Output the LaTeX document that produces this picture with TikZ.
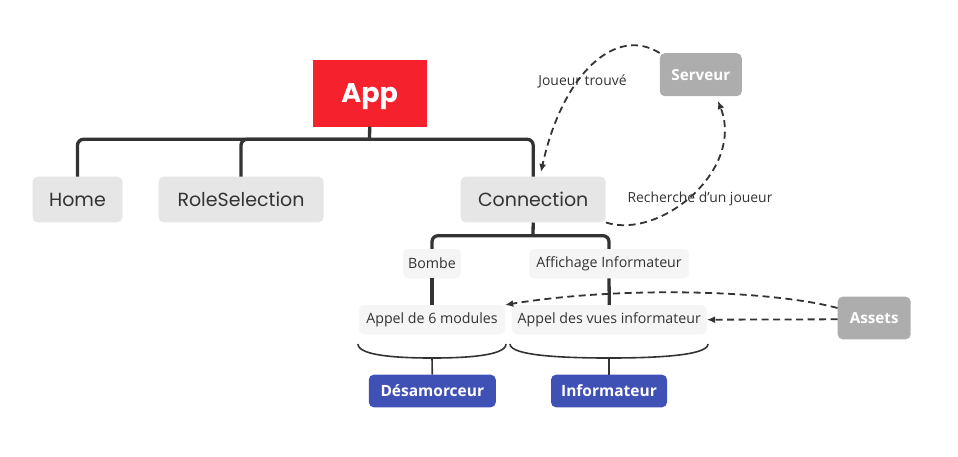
\documentclass[tikz,border=0pt]{standalone}
\usepackage{fontspec}
\setmainfont{Open Sans}
\newfontfamily\bigf{Poppins}
\usetikzlibrary{arrows.meta}
\definecolor{appred}{HTML}{F5222D}
\definecolor{boxgray}{HTML}{E6E6E6}
\definecolor{subgray}{HTML}{F5F5F5}
\definecolor{extgray}{HTML}{ADADAD}
\definecolor{roleblue}{HTML}{3F51B5}
\definecolor{ink}{HTML}{333333}
\tikzset{
  mainbox/.style={fill=boxgray, rounded corners=5pt, text=ink, inner sep=0pt,
    font=\bigf\fontsize{19}{22}\selectfont, minimum height=45.6pt},
  subbox/.style={fill=subgray, rounded corners=5pt, text=ink, inner sep=0pt,
    font=\fontsize{14.2}{16}\selectfont, minimum height=29.3pt},
  extbox/.style={fill=extgray, rounded corners=5pt, text=white, inner sep=0pt,
    font=\bfseries\fontsize{15.2}{17}\selectfont},
  rolebox/.style={fill=roleblue, rounded corners=5pt, text=white, inner sep=0pt,
    font=\bfseries\fontsize{15.5}{17}\selectfont, minimum height=32.6pt},
  tree/.style={draw=ink, line width=3.3pt, rounded corners=6pt},
  brace/.style={draw=ink, line width=1.6pt},
  flow/.style={draw=ink, line width=1.8pt, dash pattern=on 7pt off 4.5pt,
    -{Latex[length=8pt,width=7pt]}},
  lbl/.style={text=ink, inner sep=0pt, font=\fontsize{13.9}{16}\selectfont}
}
\begin{document}
\begin{tikzpicture}[x=1pt,y=-1pt]
\useasboundingbox (0,0) rectangle (958,456);
% nodes
\node[fill=appred, text=white, inner sep=0pt, minimum width=114pt, minimum height=67pt,
  text height=19.5pt, text depth=0pt,
  font=\bigf\bfseries\fontsize{27}{30}\selectfont] (app) at (369.7,93) {App};
\node[mainbox, minimum width=90pt] (home) at (77.5,199.5) {Home};
\node[mainbox, minimum width=165pt] (rs) at (241,199.5) {RoleSelection};
\node[mainbox, minimum width=145pt] (conn) at (533.2,199.5) {Connection};
\node[extbox, minimum width=82pt, minimum height=43pt] (serv) at (700.8,74.7) {Serveur};
\node[extbox, minimum width=73pt, minimum height=42.6pt] (assets) at (874.2,318) {Assets};
\node[subbox, minimum width=58pt] (bombe) at (432,263.6) {Bombe};
\node[subbox, minimum width=160pt] (aff) at (609,263.6) {Affichage Informateur};
\node[subbox, minimum width=146pt] (ap1) at (432,319.7) {Appel de 6 modules};
\node[subbox, minimum width=195pt] (ap2) at (609.3,319.7) {Appel des vues informateur};
\node[rolebox, minimum width=127pt] (des) at (432.3,391) {Désamorceur};
\node[rolebox, minimum width=116pt] (inf) at (609,391) {Informateur};
% tree
\coordinate (j1) at (369.5,139.3);
\draw[tree] (app.south) -- (j1);
\draw[tree] (home.north) |- (j1) -| (conn.north);
\draw[tree] (rs.north) |- (j1);
\coordinate (j2) at (533,235.7);
\draw[tree] (conn.south) -- (j2);
\draw[tree] (bombe.north) |- (j2) -| (aff.north);
\draw[tree] (bombe.south) -- (ap1.north);
\draw[tree] (aff.south) -- (ap2.north);
% braces
\coordinate (b1l) at (358,344);
\coordinate (b1m) at (432,358);
\coordinate (b1r) at (506,344);
\draw[brace] (b1l) .. controls (358,356) and (400,358) .. (b1m)
  .. controls (464,358) and (506,356) .. (b1r);
\draw[brace] (b1m) -- (des.north);
\coordinate (b2l) at (510,344);
\coordinate (b2m) at (609,358);
\coordinate (b2r) at (708,344);
\draw[brace] (b2l) .. controls (510,356) and (566,358) .. (b2m)
  .. controls (652,358) and (708,356) .. (b2r);
\draw[brace] (b2m) -- (inf.north);
% dashed flows
\draw[flow] (serv.north west) .. controls (615,25) and (562,75) .. (541,172);
\draw[flow] (conn.south east) .. controls (660,240) and (745,170) .. (718,101);
\draw[flow] (assets.west |- 0,308) .. controls (770,290) and (620,286) .. (ap1.north east);
\draw[flow] (assets.west |- 0,319.3) -- (ap2.east);
% labels
\node[lbl] (l1) at (582.5,81.5) {Joueur trouvé};
\node[lbl] (l2) at (700,199) {Recherche d'un joueur};
\end{tikzpicture}
\end{document}
